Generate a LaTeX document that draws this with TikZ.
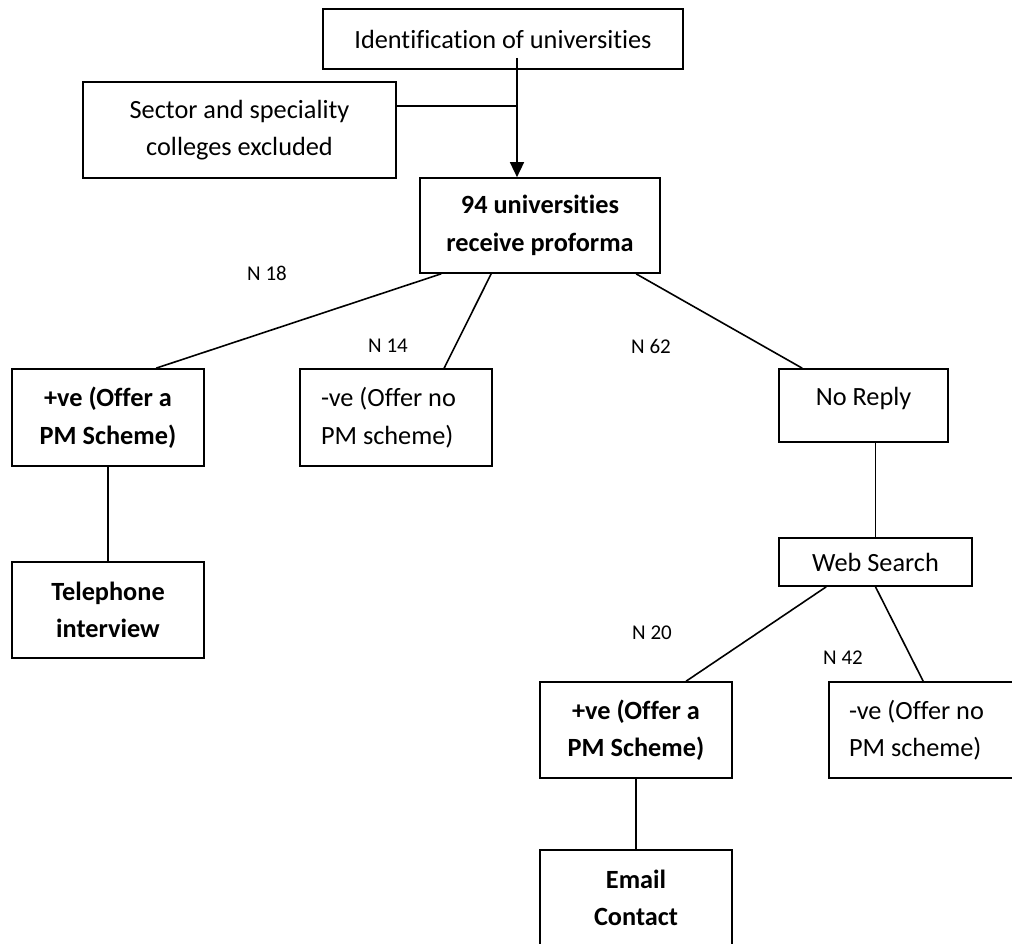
\documentclass[tikz,border=0pt]{standalone}
\usepackage{fontspec}
\setmainfont[Ligatures=NoCommon]{Carlito}
\usetikzlibrary{arrows.meta,calc}

\begin{document}
\begin{tikzpicture}[x=1pt,y=-1pt,
  box/.style={draw,line width=1.7pt,inner sep=0pt,align=center,
    font=\fontsize{26.3}{37.5}\selectfont},
  boldbox/.style={box,font=\fontsize{26.3}{37.5}\selectfont\bfseries},
  leftbox/.style={box,align=flush left,text width=150pt,inner xsep=21pt},
  link/.style={line width=1.6pt},
  count/.style={font=\fontsize{21}{25}\selectfont,inner sep=0pt}]

\useasboundingbox (0,0) rectangle (1012,943);
\clip (0,0) rectangle (1012,943);

% boxes
\node[box,minimum width=360pt,minimum height=60pt] (ident) at (503,39) {Identification of universities};
\node[box,minimum width=313pt,minimum height=96pt] (sector) at (239.5,130) {Sector and speciality\\colleges excluded};
\node[boldbox,minimum width=240pt,minimum height=95pt] (uni) at (540,225.5) {94 universities\\receive proforma};

\node[boldbox,minimum width=192pt,minimum height=97pt] (posA) at (108,417.5) {+ve (Offer a\\PM Scheme)};
\node[leftbox,minimum height=97pt] (negA) at (396,417.5) {-ve (Offer no\\PM scheme)};
\node[box,minimum width=169pt,minimum height=73pt,text height=18pt,text depth=18pt] (noreply) at (863.5,405.5) {No Reply};

\node[boldbox,minimum width=192pt,minimum height=96pt] (phone) at (108,610) {Telephone\\interview};
\node[box,minimum width=193pt,minimum height=48pt] (web) at (875.5,562) {Web Search};

\node[boldbox,minimum width=192pt,minimum height=96pt] (posB) at (636,730) {+ve (Offer a\\PM Scheme)};
\node[leftbox,minimum height=96pt,inner xsep=20pt] (negB) at (924,730) {-ve (Offer no\\PM scheme)};
\node[boldbox,minimum width=192pt,minimum height=96pt] (email) at (636,898) {Email\\Contact};

% counts
\node[count] (n18) at (267,273) {N 18};
\node[count] (n14) at (388,346) {N 14};
\node[count] (n62) at (651,346) {N 62};
\node[count] (n20) at (652,633) {N 20};
\node[count] (n42) at (843,658) {N 42};

% connectors
\coordinate (join) at (517,106);
\draw[link] (join -| sector.east) -- (join);
\draw[link,-{Triangle[length=15pt,width=14pt]}] ($(ident.south -| join)+(0,-12)$) -- (uni.north -| join);

\draw[link] ($(uni.south west)+(22,0)$) -- ($(posA.north west)+(145,0)$);
\draw[link] ($(uni.south west)+(72,0)$) -- ($(negA.north west)+(145,0)$);
\draw[link] ($(uni.south west)+(217,0)$) -- ($(noreply.north west)+(24,0)$);

\draw[link] (posA.south) -- (phone.north);
\draw[link] (noreply.south -| web.north) -- (web.north);

\draw[link] ($(web.south west)+(48,0)$) -- ($(posB.north west)+(147,0)$);
\draw[link] (web.south) -- ($(negB.north west)+(95,0)$);
\draw[link] (posB.south) -- (email.north);
\end{tikzpicture}
\end{document}
